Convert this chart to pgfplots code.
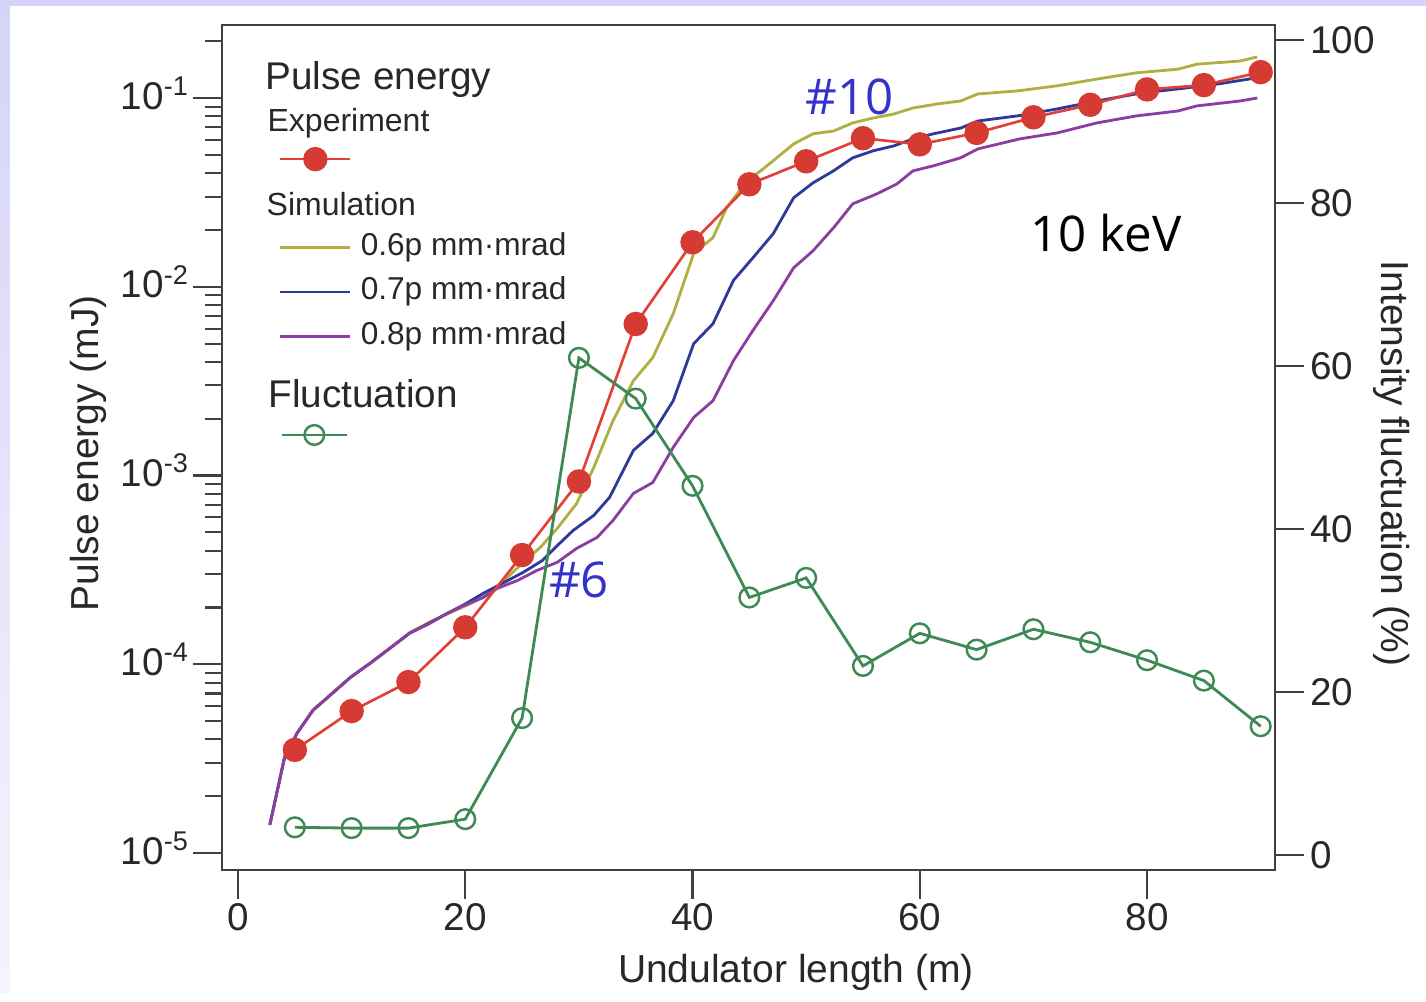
\documentclass[border=0pt]{standalone}
\usepackage{fontspec}
\setmainfont{Liberation Sans}
\newfontfamily\osans{Open Sans}
\usepackage{pgfplots}
\pgfplotsset{compat=1.18}
\definecolor{expred}{RGB}{213,58,51}
\definecolor{expline}{RGB}{226,64,52}
\definecolor{simA}{RGB}{176,176,66}
\definecolor{simB}{RGB}{45,58,154}
\definecolor{simC}{RGB}{140,62,160}
\definecolor{flgreen}{RGB}{62,138,84}
\definecolor{annblue}{RGB}{51,51,204}
\definecolor{axgray}{RGB}{64,64,64}
\definecolor{txtgray}{RGB}{40,40,40}
\definecolor{lav}{RGB}{212,212,248}

\pgfplotsset{
  common/.style={
    at={(0,0)}, anchor=south west, scale only axis,
    width=10.53cm, height=8.45cm,
    xmin=-1.41, xmax=91.26,
    tick align=outside,
    major tick length=0.29cm, minor tick length=0.17cm,
    tick style={axgray, line width=0.6pt},
    axis line style={axgray, line width=0.6pt},
    tick label style={font=\fontsize{11}{13}\selectfont, text=txtgray},
    /pgf/number format/assume math mode=true,
    legend image code/.code={\draw[mark repeat=2,mark phase=2] plot coordinates {(0cm,0cm) (0.35cm,0cm) (0.7cm,0cm)};},
    legend cell align=left,
  },
  expst/.style={expline, line width=0.75pt, mark=*, mark size=3.1pt, mark options={fill=expred, draw=expred}},
  simAst/.style={simA, line width=0.8pt, no markers},
  simBst/.style={simB, line width=0.8pt, no markers},
  simCst/.style={simC, line width=0.8pt, no markers},
  flst/.style={flgreen, line width=0.8pt, mark=o, mark size=2.8pt, mark options={line width=0.7pt}},
}

\begin{document}
\begin{tikzpicture}
% page background
\fill[white] (-2.22,-1.22) rectangle (12.04,8.70);
\shade[top color=lav, bottom color=lav!25!white] (-2.22,-1.22) rectangle (-2.125,8.70);
\fill[lav] (-2.22,8.643) rectangle (12.04,8.70);

\begin{axis}[common,
  ymode=log, ymin=8.13e-6, ymax=0.2435,
  xtick={0,20,40,60,80}, xtick pos=bottom, ytick pos=left,
  ytick={1e-5,1e-4,1e-3,1e-2,1e-1},
  yticklabels={10\textsuperscript{-5},10\textsuperscript{-4},10\textsuperscript{-3},10\textsuperscript{-2},10\textsuperscript{-1}},
  minor ytick={2e-5,3e-5,4e-5,5e-5,6e-5,7e-5,8e-5,9e-5,
               2e-4,3e-4,4e-4,5e-4,6e-4,7e-4,8e-4,9e-4,
               2e-3,3e-3,4e-3,5e-3,6e-3,7e-3,8e-3,9e-3,
               2e-2,3e-2,4e-2,5e-2,6e-2,7e-2,8e-2,9e-2,2e-1},
  xticklabel style={yshift=0.08cm},
  yticklabel style={xshift=0.09cm, yshift=0.05cm},
  xlabel={Undulator length (m)},
  ylabel={Pulse energy (mJ)},
  every axis x label/.style={at={(axis description cs:0.545,-0.1207)}, anchor=center, font=\fontsize{11.1}{13}\selectfont, text=txtgray},
  every axis y label/.style={at={(axis description cs:-0.127,0.493)}, anchor=center, rotate=90, font=\fontsize{11.1}{13}\selectfont, text=txtgray},
  legend style={at={(rel axis cs:0.0541,0.8675)}, anchor=north west, draw=none, fill=none,
    inner sep=0pt, outer sep=0pt, row sep=0pt, column sep=0.09cm,
    font=\fontsize{9}{11}\selectfont, text=txtgray,
    nodes={inner sep=0pt, text height=0.30cm, text depth=0.143cm}},
]
% Simulation 0.6
\addplot[simAst, forget plot] coordinates {
(2.8,1.41e-5) (4.1,3.22e-5) (5.2,4.32e-5) (6.6,5.71e-5) (8.1,6.85e-5) (9.9,8.53e-5)
(11.6,1.01e-4) (13.4,1.22e-4) (15.1,1.47e-4) (16.9,1.68e-4) (18.7,1.88e-4) (20.7,2.13e-4)
(22.2,2.40e-4) (23.7,2.88e-4) (25.1,3.47e-4) (26.6,4.16e-4) (28.1,5.25e-4) (29.8,7.11e-4)
(31.3,1.10e-3) (33.0,1.95e-3) (34.8,3.18e-3) (36.5,4.21e-3) (38.3,7.19e-3) (40.1,1.50e-2)
(41.8,1.82e-2) (43.0,2.62e-2) (44.8,3.64e-2) (46.0,4.11e-2) (47.1,4.65e-2) (48.9,5.71e-2)
(50.6,6.46e-2) (52.4,6.68e-2) (54.1,7.38e-2) (55.9,7.83e-2) (57.7,8.22e-2) (59.4,8.85e-2)
(61.5,9.29e-2) (63.6,9.64e-2) (65.1,0.105) (68.6,0.109) (72.1,0.116) (75.6,0.126)
(79.1,0.136) (82.7,0.142) (84.4,0.151) (88.2,0.157) (89.7,0.165)
};
% Simulation 0.7
\addplot[simBst, forget plot] coordinates {
(2.8,1.41e-5) (4.1,3.22e-5) (5.2,4.32e-5) (6.6,5.71e-5) (8.1,6.85e-5) (9.9,8.53e-5)
(11.6,1.01e-4) (13.4,1.22e-4) (15.1,1.46e-4) (16.9,1.66e-4) (18.4,1.86e-4) (19.9,2.07e-4)
(21.6,2.38e-4) (23.3,2.69e-4) (25.1,3.07e-4) (26.8,3.55e-4) (28.3,4.37e-4) (29.5,5.12e-4)
(31.3,6.14e-4) (32.7,7.66e-4) (34.8,1.36e-3) (36.5,1.67e-3) (38.3,2.49e-3) (40.1,4.99e-3)
(41.8,6.37e-3) (43.6,1.08e-2) (45.3,1.42e-2) (47.1,1.91e-2) (48.9,2.96e-2) (50.6,3.55e-2)
(52.4,4.11e-2) (54.1,4.82e-2) (55.9,5.25e-2) (57.7,5.57e-2) (59.4,6.07e-2) (61.2,6.46e-2)
(63.6,6.93e-2) (65.1,7.55e-2) (68.6,8.04e-2) (72.1,8.75e-2) (75.6,9.64e-2) (79.4,0.106)
(82.9,0.112) (86.4,0.119) (89.7,0.128)
};
% Simulation 0.8
\addplot[simCst, forget plot] coordinates {
(2.8,1.41e-5) (4.1,3.22e-5) (5.2,4.32e-5) (6.6,5.71e-5) (8.1,6.85e-5) (9.9,8.53e-5)
(11.6,1.01e-4) (13.4,1.22e-4) (15.1,1.46e-4) (16.9,1.65e-4) (18.4,1.86e-4) (19.9,2.05e-4)
(21.6,2.26e-4) (22.8,2.52e-4) (24.6,2.78e-4) (26.3,3.14e-4) (28.1,3.47e-4) (29.8,4.11e-4)
(31.6,4.70e-4) (33.0,5.78e-4) (34.8,8.04e-4) (36.5,9.18e-4) (38.3,1.41e-3) (40.1,2.03e-3)
(41.8,2.49e-3) (43.6,4.06e-3) (45.3,5.85e-3) (47.1,8.43e-3) (48.9,1.26e-2) (50.6,1.55e-2)
(52.4,2.05e-2) (54.1,2.75e-2) (56.2,3.10e-2) (58.0,3.51e-2) (59.4,4.11e-2) (61.2,4.37e-2)
(63.6,4.82e-2) (65.1,5.37e-2) (68.8,6.07e-2) (72.1,6.53e-2) (75.6,7.38e-2) (79.1,8.04e-2)
(82.7,8.53e-2) (84.4,9.08e-2) (88.2,9.64e-2) (89.7,0.100)
};
% Experiment
\addplot[expst, forget plot] coordinates {
(5,3.52e-5) (10,5.65e-5) (15,8.05e-5) (20,1.57e-4) (25,3.79e-4) (30,9.3e-4) (35,6.35e-3)
(40,1.72e-2) (45,3.49e-2) (50,4.62e-2) (55,6.12e-2) (60,5.68e-2) (65,6.53e-2) (70,7.9e-2)
(75,9.2e-2) (80,0.111) (85,0.117) (90,0.137)
};
% legend
\addlegendimage{expst}\addlegendentry{}
\addlegendimage{empty legend}\addlegendentry{}
\addlegendimage{simAst}\addlegendentry{0.6p mm·mrad}
\addlegendimage{simBst}\addlegendentry{0.7p mm·mrad}
\addlegendimage{simCst}\addlegendentry{0.8p mm·mrad}
% headings and annotations
\node[anchor=base west, inner sep=0pt, font=\fontsize{11}{13}\selectfont, text=txtgray] at (rel axis cs:0.0408,0.9231) {Pulse energy};
\node[anchor=base west, inner sep=0pt, font=\fontsize{9.1}{11}\selectfont, text=txtgray] at (rel axis cs:0.0427,0.8734) {Experiment};
\node[anchor=base west, inner sep=0pt, font=\fontsize{9.1}{11}\selectfont, text=txtgray] at (rel axis cs:0.0418,0.7751) {Simulation};
\node[anchor=base west, inner sep=0pt, font=\fontsize{11}{13}\selectfont, text=txtgray] at (rel axis cs:0.0437,0.5479) {Fluctuation};
\node[anchor=center, inner sep=0pt, font=\osans\fontsize{14}{16}\selectfont, text=annblue] at (rel axis cs:0.596,0.9148) {\#10};
\node[anchor=center, inner sep=0pt, font=\osans\fontsize{14}{16}\selectfont, text=annblue] at (rel axis cs:0.339,0.343) {\#6};
\node[anchor=center, inner sep=0pt, font=\osans\fontsize{14}{16}\selectfont, text=black] at (rel axis cs:0.8395,0.754) {10 keV};
\end{axis}

\begin{axis}[common,
  axis x line=none, axis y line*=right,
  ymin=-1.84, ymax=101.84,
  ytick={0,20,40,60,80,100},
  yticklabel style={xshift=-0.06cm},
  ylabel={Intensity fluctuation (\%)},
  every axis y label/.style={at={(axis description cs:1.111,0.481)}, anchor=center, rotate=-90, font=\fontsize{11.1}{13}\selectfont, text=txtgray},
  legend image code/.code={\draw[mark repeat=2,mark phase=2] plot coordinates {(0cm,0cm) (0.325cm,0cm) (0.65cm,0cm)};},
  legend style={at={(rel axis cs:0.0555,0.5148)}, anchor=west, draw=none, fill=none,
    inner sep=0pt, outer sep=0pt, row sep=0pt, column sep=0.09cm,
    font=\fontsize{9}{11}\selectfont,
    nodes={inner sep=0pt, text height=0.30cm, text depth=0.143cm}},
]
\addplot[flst, forget plot] coordinates {
(5,3.4) (10,3.3) (15,3.3) (20,4.4) (25,16.8) (30,61.0) (35,56.0) (40,45.3) (45,31.6)
(50,34.0) (55,23.2) (60,27.2) (65,25.2) (70,27.7) (75,26.1) (80,23.9) (85,21.4) (90,15.8)
};
\addlegendimage{flst}\addlegendentry{}
\end{axis}
\end{tikzpicture}
\end{document}
